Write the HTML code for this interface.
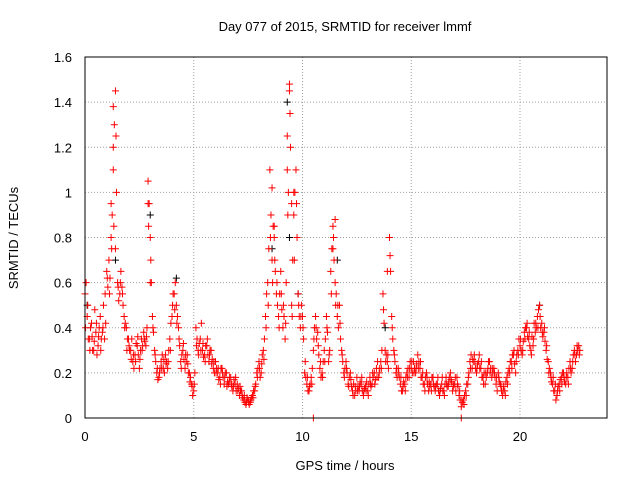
<!DOCTYPE html>
<html><head><meta charset="utf-8"><style>
body{margin:0;background:#fff}
svg{display:block;font-family:"Liberation Sans",sans-serif}
</style></head><body>
<svg id="c" width="640" height="480">
<text x="345" y="31" text-anchor="middle" font-size="13">Day 077 of 2015, SRMTID for receiver lmmf</text>
<text x="345" y="470" text-anchor="middle" font-size="13">GPS time / hours</text>
<text transform="translate(18,238) rotate(-90)" text-anchor="middle" font-size="13">SRMTID / TECUs</text>
<g id="grid"></g><g id="ticks"></g><g id="black"></g><g id="red"></g>
<rect x="85" y="57" width="522" height="361" fill="none" stroke="#000"/>
</svg>
<script>
const xTicks=[0,5,10,15,20];
const yTicks=[0,0.2,0.4,0.6,0.8,1,1.2,1.4,1.6];
const yTickLabels=["0","0.2","0.4","0.6","0.8","1","1.2","1.4","1.6"];
const startTime=0, timeStep=0.1, startTime2=0.05, startTime3=0.025;
const redValues=[0.55,0.45,0.35,0.42,0.30,0.38,0.32,0.45,0.38,0.35,
0.65,0.70,0.80,1.10,1.45,0.60,0.55,0.58,0.45,0.40,
0.35,0.30,0.25,0.28,0.32,0.22,0.35,0.38,0.32,1.05,
0.80,0.45,0.30,0.20,0.18,0.25,0.22,0.28,0.22,0.35,
0.45,0.55,0.50,0.40,0.25,0.30,0.22,0.28,0.20,0.15,
0.12,0.40,0.30,0.35,0.30,0.28,0.32,0.25,0.30,0.22,
0.25,0.20,0.18,0.22,0.15,0.20,0.15,0.18,0.12,0.15,
0.15,0.10,0.12,0.08,0.06,0.08,0.07,0.10,0.12,0.20,
0.25,0.20,0.30,0.45,0.60,1.10,0.70,0.80,0.55,0.45,
0.65,0.40,0.35,1.10,1.45,0.50,0.90,1.10,0.55,0.40,
0.45,0.20,0.15,0.12,0.18,0.30,0.45,0.38,0.22,0.20,
0.30,0.45,0.25,0.65,0.85,0.60,0.45,0.50,0.30,0.20,
0.25,0.15,0.20,0.12,0.10,0.18,0.12,0.15,0.10,0.14,
0.12,0.18,0.15,0.20,0.22,0.18,0.25,0.55,0.30,0.25,
0.80,0.45,0.30,0.20,0.22,0.15,0.12,0.15,0.20,0.18,
0.22,0.25,0.20,0.28,0.22,0.18,0.15,0.20,0.12,0.15,
0.18,0.12,0.15,0.10,0.15,0.12,0.18,0.14,0.20,0.12,
0.15,0.18,0.10,0.05,0.08,0.12,0.15,0.25,0.22,0.28,
0.20,0.25,0.22,0.18,0.15,0.20,0.25,0.18,0.22,0.15,
0.20,0.15,0.10,0.12,0.18,0.22,0.25,0.28,0.20,0.30,
0.32,0.28,0.38,0.40,0.35,0.30,0.32,0.38,0.45,0.50,
0.42,0.38,0.30,0.25,0.20,0.15,0.12,0.10,0.15,0.18,
0.20,0.15,0.18,0.25,0.22,0.30,0.28,0.32];
const redValues2=[0.60,0.35,0.40,0.30,0.48,0.28,0.40,0.35,0.50,0.42,
0.58,0.62,0.90,1.30,1.00,0.52,0.65,0.50,0.42,0.35,
0.30,0.35,0.22,0.33,0.28,0.30,0.32,0.34,0.40,0.95,
0.60,0.38,0.25,0.17,0.22,0.28,0.20,0.25,0.30,0.42,
0.55,0.60,0.45,0.32,0.28,0.26,0.25,0.20,0.18,0.10,
0.20,0.35,0.33,0.42,0.27,0.32,0.28,0.30,0.26,0.20,
0.22,0.17,0.22,0.18,0.20,0.16,0.18,0.14,0.17,0.12,
0.13,0.12,0.09,0.07,0.09,0.06,0.09,0.12,0.15,0.22,
0.18,0.28,0.35,0.55,0.75,0.90,0.85,0.65,0.50,0.55,
0.48,0.45,0.60,1.00,1.20,0.70,1.00,0.80,0.45,0.50,
0.35,0.18,0.12,0.15,0.22,0.40,0.35,0.28,0.18,0.25,
0.35,0.38,0.30,0.75,0.70,0.55,0.40,0.35,0.25,0.22,
0.20,0.18,0.14,0.15,0.12,0.14,0.16,0.12,0.13,0.16,
0.15,0.14,0.18,0.17,0.25,0.22,0.30,0.42,0.28,0.22,
0.65,0.35,0.25,0.18,0.18,0.12,0.16,0.18,0.22,0.25,
0.20,0.22,0.24,0.25,0.18,0.15,0.18,0.15,0.14,0.18,
0.14,0.15,0.12,0.13,0.12,0.15,0.14,0.18,0.16,0.14,
0.12,0.14,0.08,0.07,0.10,0.15,0.20,0.28,0.25,0.22,
0.24,0.22,0.18,0.20,0.18,0.25,0.22,0.20,0.18,0.12,
0.16,0.12,0.14,0.16,0.20,0.25,0.28,0.24,0.28,0.35,
0.30,0.34,0.40,0.36,0.32,0.36,0.42,0.40,0.48,0.40,
0.36,0.34,0.26,0.22,0.16,0.12,0.08,0.14,0.17,0.20,
0.16,0.20,0.22,0.20,0.28,0.25,0.30,0.30];
const redValues3=[0.40,0.50,0.30,0.36,0.34,0.42,0.36,0.30,0.40,0.55,
0.62,0.55,0.75,0.85,1.25,0.58,0.60,0.55,0.40,0.30,
0.32,0.26,0.28,0.25,0.36,0.26,0.30,0.35,0.36,0.85,
0.70,0.40,0.28,0.22,0.20,0.22,0.26,0.24,0.25,0.30,
0.50,0.48,0.42,0.35,0.22,0.33,0.28,0.24,0.16,0.14,
0.15,0.32,0.28,0.30,0.33,0.25,0.35,0.28,0.24,0.25,
0.20,0.22,0.15,0.20,0.18,0.14,0.16,0.15,0.14,0.18,
0.12,0.14,0.10,0.10,0.07,0.07,0.08,0.09,0.14,0.18,
0.22,0.24,0.26,0.40,0.50,0.80,0.60,0.70,0.60,0.40,
0.55,0.50,0.42,0.90,1.35,0.45,0.70,0.95,0.50,0.45,
0.40,0.25,0.18,0.14,0.15,0.35,0.40,0.32,0.25,0.18,
0.25,0.40,0.28,0.55,0.80,0.50,0.50,0.42,0.28,0.18,
0.22,0.14,0.17,0.10,0.14,0.12,0.14,0.18,0.12,0.12,
0.10,0.15,0.20,0.15,0.18,0.20,0.22,0.48,0.25,0.28,
0.72,0.40,0.28,0.22,0.20,0.18,0.14,0.12,0.18,0.22,
0.25,0.20,0.22,0.22,0.25,0.20,0.12,0.18,0.16,0.12,
0.15,0.14,0.18,0.12,0.18,0.10,0.15,0.16,0.17,0.15,
0.18,0.15,0.12,0.08,0.06,0.10,0.18,0.22,0.26,0.25,
0.22,0.28,0.25,0.15,0.20,0.22,0.20,0.22,0.20,0.18,
0.18,0.14,0.12,0.10,0.15,0.20,0.22,0.30,0.25,0.28,
0.35,0.30,0.35,0.42,0.38,0.28,0.35,0.42,0.40,0.45,
0.38,0.40,0.32,0.20,0.18,0.18,0.15,0.12,0.12,0.15,
0.18,0.18,0.15,0.22,0.25,0.28,0.32,0.28];
const spikeTimes=[1.2,1.3,1.3,1.4,2.9,3.0,8.6,8.7,9.3,9.4,9.5,9.6,11.4,11.5,13.9,14.0,10.5,17.3];
const spikeValues=[0.95,1.20,1.38,0.75,0.95,0.60,1.02,0.85,1.25,1.48,0.95,1.00,0.75,0.88,0.65,0.80,0.0,0.0];
const blackTimes=[0.1,1.4,3.0,4.2,8.6,9.3,9.4,9.8,11.6,13.8,20.9];
const blackValues=[0.50,0.70,0.90,0.62,0.75,1.40,0.80,0.55,0.70,0.40,0.50];
const X=t=>85+t*21.75, Y=v=>418-v*225.6;
const NS="http://www.w3.org/2000/svg";
const g=id=>document.getElementById(id);
function mk(tag,attrs,parent){const e=document.createElementNS(NS,tag);for(const k in attrs)e.setAttribute(k,attrs[k]);parent.appendChild(e);return e;}
xTicks.forEach(t=>{
 const l=mk("line",{x1:X(t),x2:X(t),y1:57,y2:418,stroke:"#a0a0a0","stroke-dasharray":"1,2"},g("grid"));
 
 
 const tx=mk("text",{x:X(t),y:441,"text-anchor":"middle","font-size":"13"},g("ticks"));tx.textContent=t;
 
 
});
yTicks.forEach((v,i)=>{
 const l=mk("line",{x1:85,x2:607,y1:Y(v),y2:Y(v),stroke:"#a0a0a0","stroke-dasharray":"1,2"},g("grid"));
 
 
 const tx=mk("text",{x:72,y:Y(v)+5,"text-anchor":"end","font-size":"13"},g("ticks"));tx.textContent=yTickLabels[i];
 
 
});
function plus(x,y,col,parent,name){
 const p=mk("path",{d:`M${x-3.5},${y}h7M${x},${y-3.5}v7`,stroke:col,"stroke-width":"1",fill:"none"},parent);
 
 
}
blackTimes.forEach((t,i)=>plus(X(t),Y(blackValues[i]),"#000",g("black"),"black-point"));
redValues.forEach((v,i)=>plus(X(startTime+i*timeStep),Y(v),"#ff0000",g("red"),"red-point"));
redValues2.forEach((v,i)=>plus(X(startTime2+i*timeStep),Y(v),"#ff0000",g("red"),"red-point"));
redValues3.forEach((v,i)=>plus(X(startTime3+i*timeStep),Y(v),"#ff0000",g("red"),"red-point"));
spikeTimes.forEach((t,i)=>plus(X(t),Y(spikeValues[i]),"#ff0000",g("red"),"red-spike-point"));
</script>
</body></html>
